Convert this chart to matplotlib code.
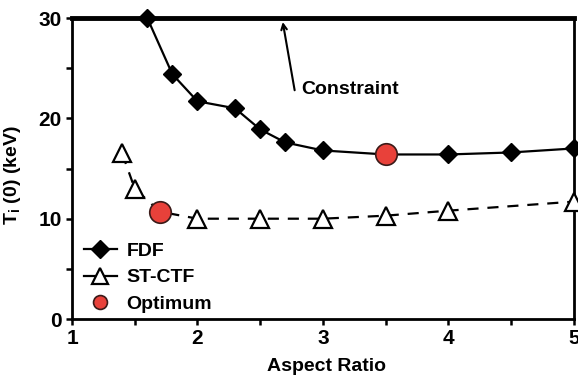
import numpy as np
import matplotlib.pyplot as plt
from matplotlib.lines import Line2D

plt.rcParams['font.family'] = ['Liberation Sans', 'DejaVu Sans']
plt.rcParams['font.weight'] = 'bold'
plt.rcParams['axes.labelweight'] = 'bold'
plt.rcParams['mathtext.fontset'] = 'custom'
plt.rcParams['mathtext.rm'] = 'Liberation Sans:bold'
plt.rcParams['mathtext.default'] = 'rm'

# FDF curve
fdf_x = [1.6, 1.8, 2.0, 2.3, 2.5, 2.7, 3.0, 3.5, 4.0, 4.5, 5.0]
fdf_y = [30.0, 24.4, 21.7, 21.0, 18.9, 17.6, 16.8, 16.4, 16.4, 16.6, 17.0]

# ST-CTF curve
ctf_x = [1.4, 1.5, 1.7, 2.0, 2.5, 3.0, 3.5, 4.0, 5.0]
ctf_y = [16.5, 13.0, 10.7, 10.0, 10.0, 10.0, 10.3, 10.8, 11.7]
ctf_mark_x = [1.4, 1.5, 2.0, 2.5, 3.0, 3.5, 4.0, 5.0]
ctf_mark_y = [16.5, 13.0, 10.0, 10.0, 10.0, 10.3, 10.8, 11.7]

# optimum points
opt_x = [1.7, 3.5]
opt_y = [10.7, 16.4]

constraint = 30
red = '#e8413a'

fig = plt.figure(figsize=(5.78, 3.83), dpi=100)
ax = fig.add_axes([0.1246, 0.167, 0.868, 0.786])

ax.axhline(constraint, color='black', lw=3.5, zorder=3, clip_on=False)

ax.plot(fdf_x, fdf_y, color='black', lw=1.6, marker='D', ms=9,
        zorder=4, clip_on=False)
ax.plot(ctf_x, ctf_y, color='black', lw=1.6, ls=(0, (5, 4)), zorder=4,
        clip_on=False)
ax.plot(ctf_mark_x, ctf_mark_y, ls='none', marker='^', ms=13,
        mfc='white', mec='black', mew=1.6, zorder=5, clip_on=False)
ax.plot(opt_x, opt_y, ls='none', marker='o', ms=15.5, mfc=red,
        mec='#3a1a18', mew=1.2, zorder=6, clip_on=False)

# constraint label + arrow
ax.annotate('', xy=(2.68, 29.6), xytext=(2.775, 22.8),
            arrowprops=dict(arrowstyle='->', color='black', lw=1.5,
                            shrinkA=0, shrinkB=0))
ax.text(2.83, 22.9, 'Constraint', fontsize=14, va='center', ha='left')

ax.set_xlim(1, 5)
ax.set_ylim(0, 30)
ax.set_xticks([1, 2, 3, 4, 5])
ax.set_xticks([1.5, 2.5, 3.5, 4.5], minor=True)
ax.set_yticks([0, 10, 20, 30])
ax.set_yticks([5, 15, 25], minor=True)
ax.tick_params(which='both', direction='out', width=1.8, length=4.5,
               labelsize=15)
ax.tick_params(axis='x', pad=3)
ax.tick_params(axis='y', pad=3)

for s in ['left', 'bottom', 'right']:
    ax.spines[s].set_linewidth(2)
ax.spines['top'].set_visible(False)

ax.set_xlabel('Aspect Ratio', fontsize=14, fontweight='bold')
ax.xaxis.set_label_coords(0.508, -0.13)
ax.set_ylabel('T$_{i}$ (0) (keV)', fontsize=14, fontweight='bold')
ax.yaxis.set_label_coords(-0.098, 0.478)

handles = [
    Line2D([], [], color='black', lw=1.6, marker='D', ms=9),
    Line2D([], [], color='black', lw=1.6, marker='^', ms=11, mfc='white',
           mec='black', mew=1.6),
    Line2D([], [], ls='none', marker='o', ms=10, mfc=red, mec='#3a1a18',
           mew=1.2),
]
ax.legend(handles, ['FDF', 'ST-CTF', 'Optimum'], loc='lower left',
          bbox_to_anchor=(0.0, -0.018), frameon=False,
          prop={'size': 14, 'weight': 'bold'},
          handlelength=1.7, labelspacing=0.45, handletextpad=0.5,
          borderaxespad=0.2)

fig.savefig('out.png', dpi=100)
